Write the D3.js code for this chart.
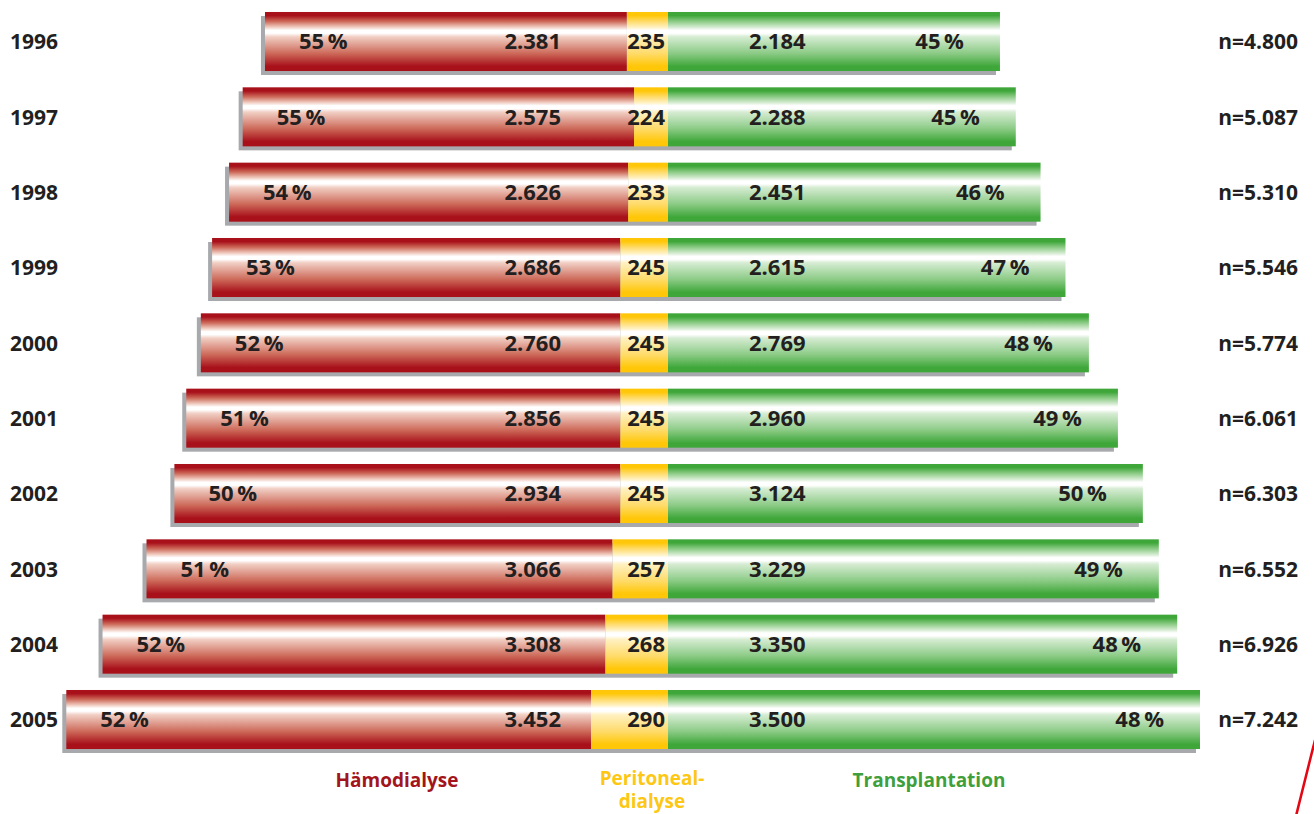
<!DOCTYPE html>
<html>
<head>
<meta charset="utf-8">
<script src="https://cdn.jsdelivr.net/npm/d3@7/dist/d3.min.js"></script>
<style>
  html, body { margin: 0; padding: 0; background: #fff; }
  svg { display: block; }
  text { font-family: "Open Sans", "Noto Sans", sans-serif; font-weight: 700; }
</style>
</head>
<body>
<svg id="chart" width="1314" height="814"></svg>
<script>
// Renal replacement therapy, patients per year
const years = ["1996","1997","1998","1999","2000","2001","2002","2003","2004","2005"];
const haemo = [2381, 2575, 2626, 2686, 2760, 2856, 2934, 3066, 3308, 3452];
const perito = [235, 224, 233, 245, 245, 245, 245, 257, 268, 290];
const transp = [2184, 2288, 2451, 2615, 2769, 2960, 3124, 3229, 3350, 3500];
const totals = [4800, 5087, 5310, 5546, 5774, 6061, 6303, 6552, 6926, 7242];
const haemoPct = [55, 55, 54, 53, 52, 51, 50, 51, 52, 52];
const transpPct = [45, 45, 46, 47, 48, 49, 50, 49, 48, 48];

const rows = years.map((y, i) => ({
  year: y, hd: haemo[i], pd: perito[i], tx: transp[i],
  n: totals[i], hdPct: haemoPct[i], txPct: transpPct[i]
}));

const svg = d3.select("#chart");
const fmt = d3.formatLocale({ decimal: ",", thousands: ".", grouping: [3], currency: ["", "€"] }).format(",d");

// split point between peritoneal dialysis and transplantation
const center = 668;
const x = d3.scaleLinear().domain([0, 4000]).range([0, 608]);
const xPd = d3.scaleLinear().domain([172, 290]).range([0, 77]);
const y = d3.scaleBand().domain(years).range([3.85, 757.15])
  .paddingInner(0.2165).paddingOuter(0.108);

// vertical "tube" gradients
const defs = svg.append("defs");
function tube(id, dark, mid, light) {
  const g = defs.append("linearGradient").attr("id", id)
    .attr("x1", 0).attr("y1", 0).attr("x2", 0).attr("y2", 1);
  [[0, dark], [0.06, dark], [0.16, mid], [0.26, light], [0.31, "#ffffff"], [0.36, "#ffffff"],
   [0.42, light], [0.7, mid], [0.92, dark], [1, dark]]
    .forEach(([o, c]) => g.append("stop").attr("offset", o).attr("stop-color", c));
}
tube("gHd", "#a8101a", "#cd6a5a", "#f1cfc4");
tube("gPd", "#ffc708", "#ffdb6a", "#fff1c2");
tube("gTx", "#3fa73a", "#8ccb86", "#d6ecd3");

const bars = svg.append("g").selectAll("g").data(rows).join("g")
  .attr("transform", d => `translate(0,${y(d.year)})`);
const h = y.bandwidth();

const leftEdge = d => center - xPd(d.pd) - x(d.hd);
const rightEdge = d => center + x(d.tx);

// drop shadow
bars.append("rect")
  .attr("x", d => leftEdge(d) - 4).attr("y", 4)
  .attr("width", d => rightEdge(d) - leftEdge(d)).attr("height", h)
  .attr("fill", "#a7a9ac");

bars.append("rect")
  .attr("x", d => leftEdge(d)).attr("y", 0)
  .attr("width", d => x(d.hd)).attr("height", h)
  .attr("fill", "url(#gHd)");
bars.append("rect")
  .attr("x", d => center - xPd(d.pd)).attr("y", 0)
  .attr("width", d => xPd(d.pd)).attr("height", h)
  .attr("fill", "url(#gPd)");
bars.append("rect")
  .attr("x", center).attr("y", 0)
  .attr("width", d => x(d.tx)).attr("height", h)
  .attr("fill", "url(#gTx)");

const ink = "#231f20";
const fs = 22;
const ty = h / 2 + 8;
function label(sel, xf, anchor, txt) {
  sel.append("text").attr("x", xf).attr("y", ty).attr("text-anchor", anchor)
    .attr("fill", ink).attr("font-size", fs).text(txt);
}
label(bars, d => leftEdge(d) + 34, "start", d => d.hdPct + "\u2009%");
label(bars, 561, "end", d => fmt(d.hd));
label(bars, 665, "end", d => fmt(d.pd));
label(bars, 749, "start", d => fmt(d.tx));
label(bars, d => rightEdge(d) - 36, "end", d => d.txPct + "\u2009%");

bars.append("text").attr("x", 10).attr("y", ty).attr("fill", ink)
  .attr("font-size", 21).text(d => d.year);
bars.append("text").attr("x", 1298).attr("y", ty).attr("text-anchor", "end")
  .attr("fill", ink).attr("font-size", 21).text(d => "n=" + fmt(d.n));

// legend
const legend = svg.append("g").attr("font-size", 19).attr("text-anchor", "middle");
legend.append("text").attr("x", 397).attr("y", 787).attr("fill", "#a3141c").text("Hämodialyse");
legend.append("text").attr("x", 652).attr("y", 785).attr("fill", "#fdc713").text("Peritoneal-");
legend.append("text").attr("x", 652).attr("y", 808).attr("fill", "#fdc713").text("dialyse");
legend.append("text").attr("x", 929).attr("y", 787).attr("fill", "#3f9f3c").text("Transplantation");

// page frame accent
svg.append("line").attr("x1", 1296).attr("y1", 816).attr("x2", 1315).attr("y2", 740)
  .attr("stroke", "#e30613").attr("stroke-width", 2.5);
</script>
</body>
</html>
